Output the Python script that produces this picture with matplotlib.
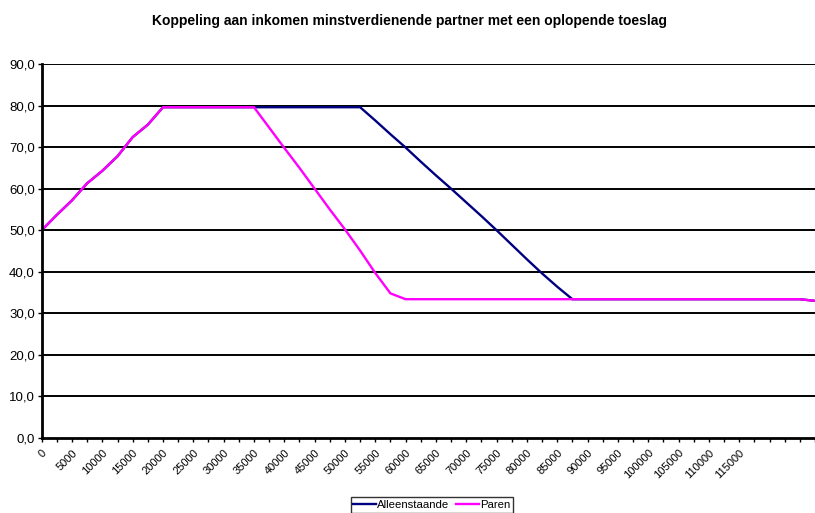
import matplotlib
matplotlib.use("Agg")
import matplotlib.pyplot as plt

plt.rcParams['font.family'] = ['Liberation Sans', 'DejaVu Sans']

title = "Koppeling aan inkomen minstverdienende partner met een oplopende toeslag"

incomes = [0, 2500, 5000, 7500, 10000, 12500, 15000, 17500, 20000, 22500,
           25000, 27500, 30000, 32500, 35000, 37500, 40000, 42500, 45000, 47500,
           50000, 52500, 55000, 57500, 60000, 62500, 65000, 67500, 70000, 72500,
           75000, 77500, 80000, 82500, 85000, 87500, 90000, 92500, 95000, 97500,
           100000, 102500, 105000, 107500, 110000, 112500, 115000, 117500, 120000, 122500,
           125000, 127500]

alleenstaande = [50.0, 53.7, 57.2, 61.3, 64.3, 67.8, 72.4, 75.4, 79.6,
                 79.6, 79.6, 79.6, 79.6, 79.6, 79.6, 79.6, 79.6, 79.6, 79.6, 79.6, 79.6, 79.6,
                 76.4, 73.1, 69.9, 66.5, 63.2, 60.0, 56.7, 53.4, 50.0, 46.5, 43.0, 39.6, 36.4,
                 33.4, 33.4, 33.4, 33.4, 33.4, 33.4, 33.4, 33.4, 33.4, 33.4, 33.4, 33.4, 33.4,
                 33.4, 33.4, 33.4,
                 33.0]

paren = [50.0, 53.7, 57.2, 61.3, 64.3, 67.8, 72.4, 75.4, 79.6,
         79.6, 79.6, 79.6, 79.6, 79.6, 79.6,
         74.7, 69.8, 65.0, 60.0, 55.0, 50.2, 45.1, 39.7, 34.8,
         33.4, 33.4, 33.4, 33.4, 33.4, 33.4, 33.4, 33.4, 33.4, 33.4, 33.4, 33.4, 33.4,
         33.4, 33.4, 33.4, 33.4, 33.4, 33.4, 33.4, 33.4, 33.4, 33.4, 33.4, 33.4, 33.4,
         33.4,
         33.0]

labelled_max = 115000
y_ticks = [0, 10, 20, 30, 40, 50, 60, 70, 80, 90]

W, H = 815, 513
fig = plt.figure(figsize=(W / 100, H / 100), dpi=100)
x0, x1 = 41.7, 815
y0, y1 = 438, 64
ax = fig.add_axes([x0 / W, 1 - y0 / H, (x1 - x0) / W, (y0 - y1) / H])

pos = list(range(len(incomes)))
step = 15.3
ax.set_xlim(0, (x1 - x0) / step)
ax.set_ylim(0, 90)

for v in y_ticks[1:]:
    ax.axhline(v, color='#000000', lw=1.4, zorder=1)

ax.plot(pos, alleenstaande, color='#000080', lw=1.7, label='Alleenstaande', zorder=3,
        solid_joinstyle='miter', clip_on=True)
ax.plot(pos, paren, color='#FF00FF', lw=1.7, label='Paren', zorder=4,
        solid_joinstyle='miter', clip_on=True)

for s in ['top', 'right']:
    ax.spines[s].set_visible(False)
for s in ['left', 'bottom']:
    ax.spines[s].set_linewidth(2)
    ax.spines[s].set_color('black')
    ax.spines[s].set_zorder(5)

ax.set_xticks(pos)
xlabels = [str(v) if (i % 2 == 0 and v <= labelled_max) else '' for i, v in enumerate(incomes)]
ax.set_xticklabels(xlabels, rotation=45, ha='right', va='top', rotation_mode='anchor',
                   fontsize=8)
ax.tick_params(axis='x', direction='out', length=3, width=1, pad=4)

ax.set_yticks(y_ticks)
ax.set_yticklabels([f"{v:.1f}".replace('.', ',') for v in y_ticks], fontsize=9.5)
ax.tick_params(axis='y', direction='out', length=3, width=1, pad=2)

fig.text(409 / W, 1 - 21 / H, title, ha='center', va='center', fontsize=10,
         fontweight='bold')

leg = ax.legend(loc='upper center', bbox_to_anchor=(432 / W, 1 - 497 / H),
                bbox_transform=fig.transFigure, ncol=2, fontsize=8.2,
                frameon=True, fancybox=False, handlelength=2.0, handletextpad=0.1,
                columnspacing=0.6, borderpad=0.25, borderaxespad=0)
leg.get_frame().set_edgecolor('black')
leg.get_frame().set_linewidth(1)

fig.savefig('out.png', dpi=100)
